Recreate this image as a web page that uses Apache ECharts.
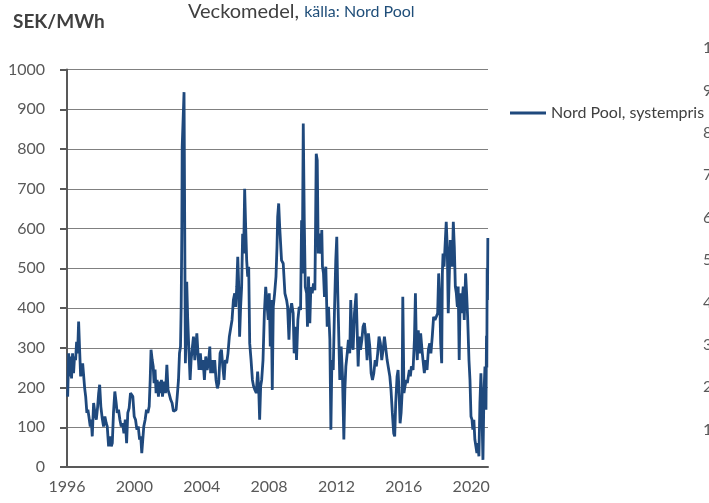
<!DOCTYPE html>
<html>
<head>
<meta charset="utf-8">
<script src="https://cdn.jsdelivr.net/npm/echarts@6/dist/echarts.min.js"></script>
<style>
  html, body { margin: 0; padding: 0; background: #fff; }
  #chartDiv { width: 709px; height: 503px; }
</style>
</head>
<body>
<div id="chartDiv"></div>
<script>
// veckomedel (år som decimaltal, SEK/MWh)
var years = [
  1996.04,1996.10,1996.16,1996.22,1996.27,1996.33,1996.39,1996.45,1996.51,1996.57,1996.63,1996.69,1996.75,1996.81,1996.87,1996.93,1996.99,
  1997.05,1997.11,1997.18,1997.24,1997.30,1997.38,1997.44,1997.50,1997.58,1997.66,1997.74,1997.82,1997.88,1997.94,
  1998.01,1998.09,1998.17,1998.25,1998.33,1998.39,1998.47,1998.55,1998.63,1998.69,1998.76,1998.84,1998.92,1998.98,
  1999.06,1999.14,1999.22,1999.30,1999.38,1999.46,1999.54,1999.61,1999.69,1999.77,1999.85,1999.91,1999.99,
  2000.07,2000.15,2000.23,2000.31,2000.38,2000.44,2000.50,2000.56,2000.64,2000.72,2000.80,2000.88,2000.94,2000.99,
  2001.06,2001.12,2001.17,2001.23,2001.29,2001.35,2001.43,2001.49,2001.55,2001.61,2001.67,2001.77,2001.85,2001.93,
  2002.00,2002.08,2002.16,2002.24,2002.32,2002.40,2002.48,2002.56,2002.62,2002.68,2002.74,2002.78,2002.82,2002.84,2002.89,2002.95,2002.99,
  2003.03,2003.07,2003.11,2003.17,2003.23,2003.31,2003.37,2003.43,2003.51,2003.59,2003.65,2003.71,2003.78,2003.84,2003.92,
  2004.00,2004.08,2004.16,2004.24,2004.32,2004.40,2004.48,2004.53,2004.61,2004.69,2004.77,2004.85,2004.93,
  2005.01,2005.09,2005.17,2005.25,2005.33,2005.40,2005.48,2005.56,2005.64,2005.72,2005.80,2005.88,2005.96,
  2006.02,2006.08,2006.14,2006.20,2006.25,2006.31,2006.37,2006.43,2006.49,2006.55,2006.61,2006.67,2006.73,2006.79,2006.85,2006.93,
  2007.01,2007.08,2007.16,2007.24,2007.32,2007.38,2007.44,2007.50,2007.56,2007.64,2007.72,2007.80,2007.87,2007.95,
  2008.01,2008.07,2008.13,2008.19,2008.25,2008.33,2008.41,2008.47,2008.51,2008.57,2008.63,2008.74,2008.84,2008.94,
  2009.04,2009.10,2009.18,2009.24,2009.34,2009.43,2009.49,2009.57,2009.63,2009.71,2009.79,2009.87,2009.93,2009.97,
  2010.03,2010.09,2010.15,2010.23,2010.28,2010.34,2010.42,2010.48,2010.56,2010.64,2010.72,2010.76,2010.80,2010.86,2010.92,2010.98,
  2011.07,2011.13,2011.17,2011.23,2011.29,2011.37,2011.45,2011.53,2011.61,2011.67,2011.73,2011.81,2011.88,2011.96,
  2012.02,2012.08,2012.14,2012.20,2012.28,2012.36,2012.44,2012.50,2012.56,2012.64,2012.71,2012.79,2012.85,2012.93,2012.99,
  2013.07,2013.17,2013.23,2013.29,2013.35,2013.43,2013.51,2013.58,2013.66,2013.74,2013.82,2013.90,2013.98,
  2014.06,2014.14,2014.22,2014.30,2014.37,2014.45,2014.53,2014.61,2014.69,2014.77,2014.85,2014.93,
  2015.01,2015.09,2015.17,2015.24,2015.32,2015.40,2015.46,2015.52,2015.60,2015.66,2015.72,2015.78,2015.84,2015.90,2015.94,
  2016.01,2016.07,2016.15,2016.21,2016.27,2016.33,2016.39,2016.45,2016.55,2016.63,2016.69,2016.74,2016.80,2016.86,2016.94,
  2017.00,2017.08,2017.14,2017.22,2017.30,2017.38,2017.46,2017.54,2017.61,2017.69,2017.77,2017.85,2017.93,
  2018.01,2018.07,2018.13,2018.19,2018.25,2018.29,2018.33,2018.39,2018.44,2018.52,2018.58,2018.64,2018.70,2018.76,2018.82,2018.88,2018.94,
  2019.00,2019.06,2019.12,2019.18,2019.23,2019.29,2019.35,2019.41,2019.47,2019.53,2019.59,2019.67,2019.73,2019.79,2019.87,2019.93,2019.99,
  2020.05,2020.10,2020.16,2020.22,2020.28,2020.34,2020.40,2020.46,2020.52,2020.58,2020.64,2020.70,2020.76,2020.82,2020.88,2020.91,2020.93,2020.95,2020.97,2020.99
];
var prices = [
  177,286,228,278,223,286,236,278,269,315,286,366,295,228,223,261,265,
  198,177,136,144,127,102,119,77,161,136,119,152,186,207,
  152,123,102,127,110,102,52,77,52,60,136,190,161,136,
  144,119,102,110,85,119,60,136,148,186,186,177,127,
  119,94,102,69,77,35,69,102,119,144,136,152,219,295,
  269,253,211,245,186,219,177,215,186,219,177,215,186,257,
  194,182,169,161,140,136,144,186,219,286,303,403,604,805,805,943,604,
  261,328,466,370,303,219,269,295,328,269,303,336,286,244,286,
  244,269,219,278,244,261,303,236,269,236,269,219,198,
  211,286,295,253,219,269,261,286,328,328,370,420,437,
  403,453,529,453,328,403,453,587,537,700,604,520,479,504,311,269,
  219,203,194,186,240,203,119,203,219,269,387,453,453,370,
  437,303,420,194,403,437,479,554,629,663,604,520,512,437,
  420,403,320,387,412,387,286,353,269,370,403,395,621,487,
  864,621,453,437,353,479,362,453,437,462,445,604,788,772,537,587,
  537,596,504,487,428,504,353,403,320,94,269,244,387,520,
  579,437,328,219,303,228,69,194,253,286,320,286,420,311,295,
  387,437,345,253,328,295,320,353,362,328,269,336,303,
  236,219,236,269,253,286,328,311,269,295,328,328,
  269,269,228,194,136,85,77,161,228,244,186,110,136,186,428,
  186,203,219,211,228,244,228,253,244,320,437,320,269,344,286,
  336,295,269,236,269,244,295,311,286,328,378,370,378,
  387,487,437,311,261,487,537,504,504,617,554,387,479,571,537,504,617,
  554,454,437,403,454,269,437,387,420,454,370,487,437,378,269,219,127,
  119,94,119,69,52,35,60,27,161,236,136,18,186,253,144,330,250,500,420,576
];
var yearTicks = [1996, 2021, 4];
var priceTicks = [0, 1000, 100];
var seriesName = 'Nord Pool, systempris';

var data = years.map(function (y, i) { return [y, prices[i]]; });

var chartDiv = document.getElementById('chartDiv');
var myChart = echarts.init(chartDiv, null, { renderer: 'canvas' });
var font = 'Lato, "DejaVu Sans", sans-serif';
var plain = function (v) { return String(v); };

var option = {
    animation: false,
    backgroundColor: '#ffffff',
    textStyle: { fontFamily: font },
    title: [{
        text: 'SEK/MWh',
        left: 8, top: 7,
        textStyle: { fontFamily: font, fontSize: 19, fontWeight: 'bold', color: '#404040' }
    }, {
        text: 'Veckomedel, {b|källa: Nord Pool}',
        left: 183, top: -3,
        textStyle: {
            fontFamily: font, fontSize: 20, fontWeight: 'normal', color: '#404040',
            rich: { b: { fontFamily: font, fontSize: 16, color: '#1f4e79' } }
        }
    }],
    legend: {
        data: [seriesName],
        left: 505, top: 100,
        icon: 'rect',
        itemWidth: 36, itemHeight: 3, itemGap: 5,
        textStyle: { fontFamily: font, fontSize: 16, color: '#404040' }
    },
    grid: [
        { left: 67, right: 221, top: 69.5, bottom: 36 },
        { left: 703, width: 4, top: 48, height: 424 }
    ],
    xAxis: [{
        type: 'value',
        gridIndex: 0,
        min: yearTicks[0], max: yearTicks[1], interval: yearTicks[2],
        axisLine: { show: true, lineStyle: { color: '#595959', width: 2 } },
        axisTick: { show: false },
        splitLine: { show: false },
        axisLabel: {
            showMaxLabel: false,
            margin: 12,
            fontFamily: font, fontSize: 16, color: '#595959',
            formatter: plain
        }
    }, {
        type: 'value', gridIndex: 1, show: false
    }],
    yAxis: [{
        type: 'value',
        gridIndex: 0,
        min: priceTicks[0], max: priceTicks[1], interval: priceTicks[2],
        axisLine: { show: true, lineStyle: { color: '#595959', width: 2 } },
        axisTick: { show: true, length: 7, lineStyle: { color: '#595959', width: 2 } },
        splitLine: { show: true, lineStyle: { color: '#808080', width: 1 } },
        axisLabel: { margin: 22, fontFamily: font, fontSize: 16, color: '#595959', formatter: plain }
    }, {
        // skalan från grannbilden som skymtar i högerkanten
        type: 'value',
        gridIndex: 1,
        min: priceTicks[0], max: priceTicks[1], interval: priceTicks[2],
        axisLine: { show: false },
        axisTick: { show: false },
        splitLine: { show: false },
        axisLabel: {
            inside: true, margin: 0, showMinLabel: false,
            fontFamily: font, fontSize: 16, color: '#595959', formatter: plain
        }
    }],
    series: [{
        name: seriesName,
        type: 'line',
        xAxisIndex: 0, yAxisIndex: 0,
        data: data,
        showSymbol: false,
        symbol: 'none',
        lineStyle: { color: '#1f497d', width: 2.8 },
        itemStyle: { color: '#1f497d' }
    }]
};

myChart.setOption(option);
window.onresize = myChart.resize;
</script>
</body>
</html>
